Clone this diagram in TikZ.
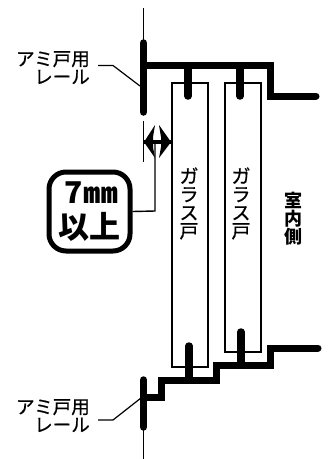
\documentclass[tikz,border=0pt]{standalone}
\usepackage{fontspec}
\setmainfont{Noto Sans CJK JP}
\newfontfamily\medfont[FakeBold=0.6]{Noto Sans CJK JP}
\usetikzlibrary{arrows.meta}
\tikzset{
  thick line/.style={line width=7pt,line join=miter},
  rail/.style={line width=7.5pt,line cap=round},
  thin line/.style={line width=1.5pt},
  door/.style={draw,line width=2pt,minimum width=36pt,anchor=north west,inner sep=0pt},
  label text/.style={font=\medfont\fontsize{18.5}{18}\selectfont,align=right,inner sep=0pt},
  vertical text/.style={font=\medfont\fontsize{19}{18.3}\selectfont,align=center,inner sep=0pt},
  badge/.style={draw,line width=5pt,rounded corners=17pt,minimum width=81pt,minimum height=79pt,inner sep=0pt,align=center}
}
\begin{document}
\begin{tikzpicture}[x=1pt,y=-1pt]
\useasboundingbox (0,0) rectangle (329,459);
% doors
\node[door,minimum height=284pt] (door1) at (171,82) {};
\node[door,minimum height=269pt] (door2) at (224,82) {};
% wall lines
\draw[thin line] (143.5,8) -- (143.5,42);
\draw[thin line] (143.5,425) -- (143.5,459);
% top frame
\draw[thick line,line cap=round] (146,65) -- (270,65) -- (270,96) -- (316,96);
\draw[rail] (143.5,43) -- (143.5,112);
\draw[rail] (188,66) -- (188,96);
\draw[rail] (240,66) -- (240,96);
% bottom frame
\draw[thick line,line cap=round] (318,348) -- (270,348) -- (270,365) -- (216,365) -- (216,380) -- (161,380) -- (161,397) -- (146,397);
\draw[rail] (143.5,380) -- (143.5,427);
\draw[rail] (189,346) -- (189,380);
\draw[rail] (241,332) -- (241,365);
% labels
\node[label text,anchor=north east] (topl) at (90,51) {アミ戸用\\レール};
\node[label text,anchor=north east] (botl) at (90,399) {アミ戸用\\レール};
\coordinate (topa) at (98,65.5);
\coordinate (topb) at (140,86);
\coordinate (bota) at (98,420);
\coordinate (botb) at (141,398);
\draw[line width=1.2pt] (topa) -- (113,65.5) -- (topb);
\draw[line width=1.2pt] (bota) -- (113,420) -- (botb);
% dimension
\coordinate (dimL) at (144,142);
\coordinate (dimR) at (171,142);
\coordinate (dimM) at (155,142);
\draw[line width=1.2pt] (143.5,121) -- (143.5,162);
\draw[line width=4pt] (dimL) -- (dimR);
\fill (dimL) -- (155,125) -- (153,137) -- (153,147) -- (155,158) -- cycle;
\fill (dimR) -- (159,125) -- (161,137) -- (161,147) -- (159,158) -- cycle;
% badge
\node[badge] (box) at (89.5,211.5) {};
\node[inner sep=0pt,anchor=base west] (seven) at (64,203) {\fontsize{30}{30}\selectfont\bfseries 7\hspace{1pt}\scalebox{1.3}[1.05]{\fontsize{27}{27}\selectfont\bfseries ㎜}};
\node[inner sep=0pt,anchor=base] (ijou) at (89.5,238) {\fontsize{31}{31}\selectfont\bfseries 以上};
\draw[line width=1.4pt] (box.east) -- (155,211) -- (dimM);
% vertical text
\node[vertical text] (g1) at (189,203.5) {ガ\\ラ\\ス\\戸};
\node[vertical text] (g2) at (241,203.5) {ガ\\ラ\\ス\\戸};
\node[vertical text,font=\bfseries\fontsize{18}{18.3}\selectfont] (room) at (293,218.5) {室\\内\\側};
\end{tikzpicture}
\end{document}
